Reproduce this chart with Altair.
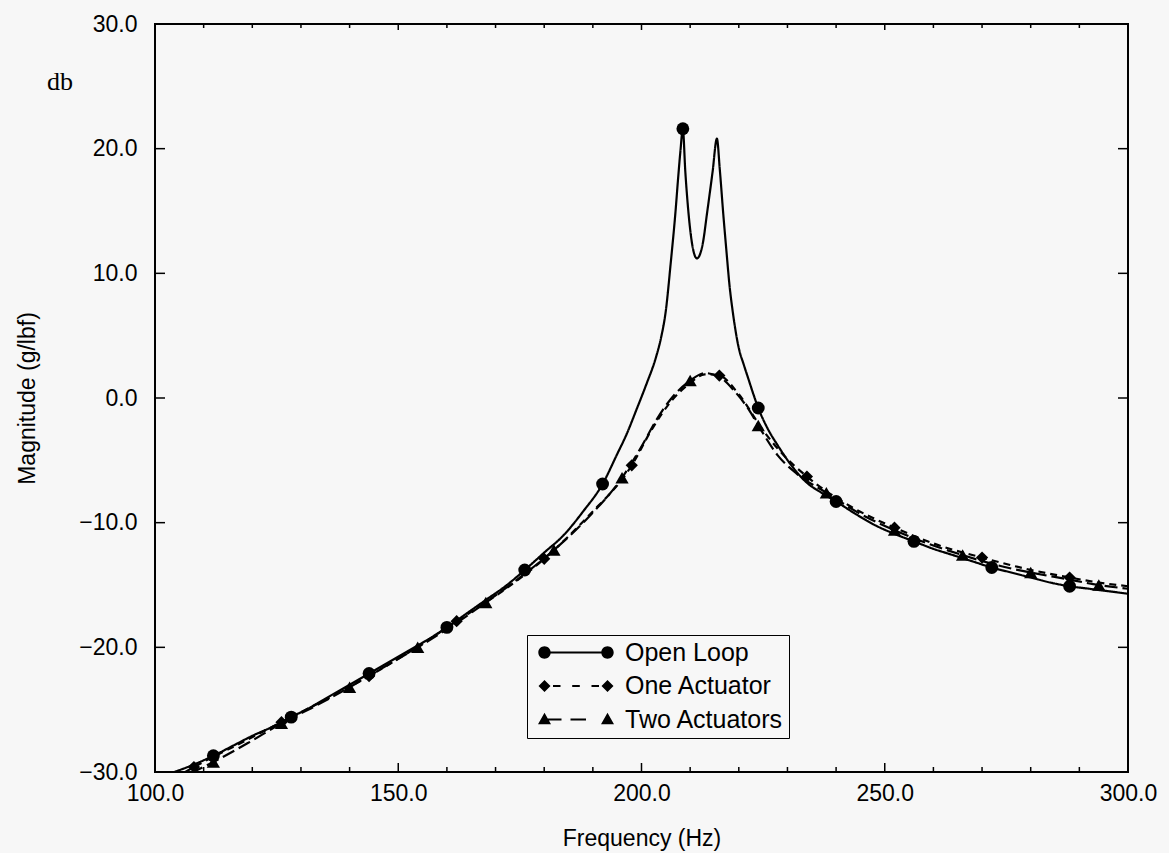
import altair as alt
import pandas as pd

# ---------------- data ----------------
open_freq = [104, 108, 112, 116, 120, 124, 128, 132, 136, 140, 144, 148, 152, 156, 160,
             164, 168, 172, 176, 180, 184, 188, 192, 195, 197, 199, 201, 203, 204, 205, 206,
             207, 207.5, 208, 208.5, 209, 209.6, 210.2, 210.8, 211.4, 212, 212.6, 213.5,
             214.6, 215.5, 216.1, 216.8, 217.5, 218.1, 218.8, 220, 221, 222, 223, 224, 226,
             228, 231, 234, 237, 240, 244, 248, 252, 256, 260, 264, 268, 272, 276, 280, 284,
             288, 292, 296, 300]
open_db = [-30.0, -29.4, -28.7, -27.9, -27.1, -26.4, -25.6, -24.8, -23.9, -23.0, -22.1, -21.2,
           -20.3, -19.4, -18.4, -17.3, -16.2, -15.1, -13.8, -12.4, -11.0, -9.1, -6.9, -4.5,
           -2.85, -0.9, 1.1, 3.3, 4.8, 7.0, 10.8, 15.0, 17.5, 19.8, 21.6, 18.2, 15.1, 12.9,
           11.6, 11.2, 11.5, 12.4, 14.9, 18.1, 20.8, 18.3, 14.8, 11.6, 9.0, 6.8, 4.0, 2.7,
           1.5, 0.3, -0.8, -2.5, -3.8, -5.5, -6.8, -7.6, -8.3, -9.3, -10.2, -10.9, -11.5,
           -12.1, -12.6, -13.1, -13.6, -14.0, -14.4, -14.8, -15.1, -15.3, -15.5, -15.7]

one_freq = [104, 108, 117, 126, 135, 144, 153, 162, 171, 180, 189, 198, 202, 206, 210, 213,
            216, 220, 225, 229, 234, 243, 252, 261, 270, 279, 288, 294, 300]
one_db = [-30.5, -29.6, -27.8, -26.0, -24.2, -22.3, -20.2, -17.9, -15.6, -12.9, -9.5, -5.4,
          -2.6, -0.3, 1.2, 1.9, 1.8, 0.3, -2.6, -4.5, -6.3, -8.7, -10.4, -11.8, -12.8, -13.7,
          -14.4, -14.8, -15.1]

two_freq = [104, 112, 119, 126, 133, 140, 147, 154, 161, 168, 175, 182, 189, 196, 200, 203,
            206, 210, 213, 216, 219, 222, 224, 228, 232, 238, 245, 252, 259, 266, 273, 280,
            287, 294, 300]
two_db = [-30.7, -29.2, -27.7, -26.1, -24.7, -23.2, -21.6, -20.0, -18.3, -16.4, -14.4, -12.2,
          -9.6, -6.4, -3.9, -1.8, -0.1, 1.4, 2.0, 1.7, 0.6, -0.9, -2.2, -4.6, -6.1, -7.6,
          -9.3, -10.6, -11.7, -12.6, -13.4, -14.0, -14.5, -15.0, -15.3]

open_marker_freq = [112, 128, 144, 160, 176, 192, 208.5, 224, 240, 256, 272, 288]
one_marker_freq = [108, 126, 144, 162, 180, 198, 216, 234, 252, 270, 288]
two_marker_freq = [112, 126, 140, 154, 168, 182, 196, 210, 224, 238, 252, 266, 280, 294]

series_names = ["Open Loop", "One Actuator", "Two Actuators"]

x_label_values = [100, 150, 200, 250, 300]
y_label_values = [-30, -20, -10, 0, 10, 20, 30]
x_minor_ticks = [110, 120, 130, 140, 160, 170, 180, 190, 210, 220, 230, 240, 260, 270, 280, 290]
x_major_ticks = [150, 200, 250]
y_ticks = [-20, -10, 0, 10, 20]

# ---------------- layout / style ----------------
W, H = 973, 748
FONT = "Liberation Sans"
BG = "#f7f7f7"


def frame(freq, db, markers, name):
    return pd.DataFrame({
        "freq": freq,
        "db": db,
        "marker": [f in markers for f in freq],
        "series": name,
    })


df_open = frame(open_freq, open_db, open_marker_freq, series_names[0])
df_one = frame(one_freq, one_db, one_marker_freq, series_names[1])
df_two = frame(two_freq, two_db, two_marker_freq, series_names[2])

xscale = alt.Scale(domain=[100, 300], nice=False, zero=False)
yscale = alt.Scale(domain=[-30, 30], nice=False, zero=False)

xaxis = alt.Axis(values=x_label_values, format=".1f", ticks=False, tickSize=0, domain=False,
                 grid=False, labelFont=FONT, labelFontSize=23, labelColor="black",
                 labelPadding=10, labelFlush=False, title="Frequency (Hz)", titleFont=FONT,
                 titleFontSize=23, titleFontWeight="normal", titleColor="black",
                 titlePadding=22)
yaxis = alt.Axis(values=y_label_values, format=".1f", ticks=False, tickSize=0, domain=False,
                 grid=False, labelFont=FONT, labelFontSize=23, labelColor="black",
                 labelPadding=18, labelFlush=False, title="Magnitude (g/lbf)",
                 titleFont=FONT, titleFontSize=23, titleFontWeight="normal",
                 titleColor="black", titlePadding=39)

X = alt.X("freq:Q", scale=xscale, axis=xaxis)
Y = alt.Y("db:Q", scale=yscale, axis=yaxis)


def line_layer(df, dash):
    return alt.Chart(df).mark_line(color="black", strokeWidth=2.2, strokeDash=dash,
                                   interpolate="monotone", clip=True).encode(x=X, y=Y)


def point_layer(df, shape, size):
    return alt.Chart(df).transform_filter(alt.datum.marker).mark_point(
        shape=shape, size=size, filled=True, color="black", opacity=1, clip=True
    ).encode(x=X, y=Y)


lines = [
    line_layer(df_open, [1, 0]),
    line_layer(df_one, [7, 5]),
    line_layer(df_two, [13, 5]),
]
points = [
    point_layer(df_open, "circle", 165),
    point_layer(df_one, "diamond", 150),
    point_layer(df_two, "triangle-up", 175),
]

# ---- inward ticks on all four sides ----
tx_minor = pd.DataFrame({"freq": x_minor_ticks})
tx_major = pd.DataFrame({"freq": x_major_ticks})
ty = pd.DataFrame({"db": y_ticks})

tick_layers = [
    alt.Chart(tx_minor).mark_rule(color="black", strokeWidth=1.5).encode(
        x=X, y=alt.value(H), y2=alt.value(H - 5)),
    alt.Chart(tx_major).mark_rule(color="black", strokeWidth=1.5).encode(
        x=X, y=alt.value(H), y2=alt.value(H - 9)),
    alt.Chart(tx_minor).mark_rule(color="black", strokeWidth=1.5).encode(
        x=X, y=alt.value(0), y2=alt.value(4)),
    alt.Chart(tx_major).mark_rule(color="black", strokeWidth=1.5).encode(
        x=X, y=alt.value(0), y2=alt.value(6)),
    alt.Chart(ty).mark_rule(color="black", strokeWidth=1.5).encode(
        y=Y, x=alt.value(0), x2=alt.value(10)),
    alt.Chart(ty).mark_rule(color="black", strokeWidth=1.5).encode(
        y=Y, x=alt.value(W), x2=alt.value(W - 10)),
]


# ---- legend: custom filled symbols (line pieces with a marker at each end) ----
def bar(a, b, t=0.1):
    return f"M{a},{-t} L{b},{-t} L{b},{t} L{a},{t} Z "


circ = ("M-2.53,0 A0.62,0.62 0 1,1 -3.77,0 A0.62,0.62 0 1,1 -2.53,0 Z "
        "M3.77,0 A0.62,0.62 0 1,1 2.53,0 A0.62,0.62 0 1,1 3.77,0 Z")
diam = ("M-3.15,-0.6 L-2.55,0 L-3.15,0.6 L-3.75,0 Z "
        "M3.15,-0.6 L3.75,0 L3.15,0.6 L2.55,0 Z")
tri = ("M-3.15,-0.68 L-2.5,0.47 L-3.8,0.47 Z "
       "M3.15,-0.68 L3.8,0.47 L2.5,0.47 Z")
legend_paths = [
    bar(-3.15, 3.15) + circ,
    bar(-2.3, -1.55) + bar(-0.38, 0.38) + bar(1.55, 2.3) + diam,
    bar(-3.0, -1.45) + bar(-0.55, 1.0) + tri,
]

leg = alt.Legend(orient="none", legendX=372, legendY=611, title=None, symbolSize=400,
                 symbolOffset=31.5, labelOffset=36.5, labelFont=FONT, labelFontSize=25,
                 labelColor="black", strokeColor="black", padding=5, rowPadding=7.5,
                 symbolOpacity=1, symbolFillColor="black", symbolStrokeColor="black",
                 symbolStrokeWidth=0, fillColor=BG, labelLimit=0)

df_leg = pd.DataFrame({"series": series_names})
legend_layer = alt.Chart(df_leg).mark_point(
    filled=True, color="black", size=400, opacity=0
).encode(
    shape=alt.Shape("series:N", scale=alt.Scale(domain=series_names, range=legend_paths),
                    legend=leg),
)

# ---- "db" unit annotation ----
db_text = alt.Chart(pd.DataFrame({"t": ["db"]})).mark_text(
    font="Liberation Serif", fontSize=26, color="black", align="center", baseline="middle"
).encode(text="t:N", x=alt.value(-95), y=alt.value(58))

chart = alt.layer(*lines, *points, *tick_layers, db_text, legend_layer).properties(
    width=W, height=H,
    background=BG,
    autosize=alt.AutoSizeParams(type="none"),
    padding={"left": 155, "top": 24, "right": 41, "bottom": 81},
).configure_view(stroke="black", strokeWidth=2)

chart.save("out.html", embed_options={"renderer": "svg", "actions": False})
